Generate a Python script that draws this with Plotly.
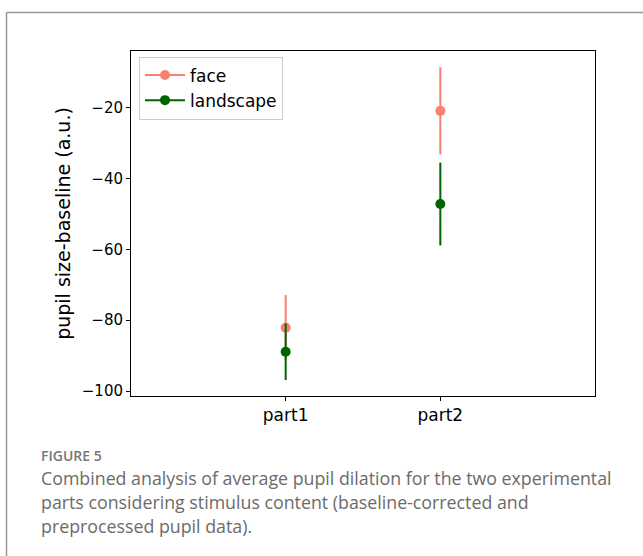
import plotly.graph_objects as go

categories = ["part1", "part2"]
face_mean = [-82.1, -20.9]
face_err = [9.2, 12.3]
landscape_mean = [-88.9, -47.2]
landscape_err = [8.0, 11.7]
y_ticks = [-100, -80, -60, -40, -20]

W, H = 643, 556
L, R, T, B = 131, 595, 51, 396

def px_x(x):
    return (x - L) / (R - L)

def px_y(y):
    return (B - y) / (B - T)

fig = go.Figure()
series = [("face", face_mean, face_err, "#FA8072"),
          ("landscape", landscape_mean, landscape_err, "#006400")]
for name, means, errs, col in series:
    for i, (c, m, e) in enumerate(zip(categories, means, errs)):
        fig.add_trace(go.Scatter(
            x=[c], y=[m], name=name, legendgroup=name, showlegend=(i == 0),
            mode="lines+markers",
            line=dict(color=col, width=2),
            marker=dict(color=col, size=10),
            error_y=dict(type="data", array=[e], color=col, thickness=2, width=0),
        ))

axis_font = dict(family="DejaVu Sans", size=15, color="#000")
fig.update_layout(
    width=W, height=H,
    margin=dict(l=L, r=W - R, t=T, b=H - B),
    paper_bgcolor="white", plot_bgcolor="white",
    font=dict(family="DejaVu Sans", color="#000"),
    showlegend=True,
    legend=dict(x=px_x(139), y=px_y(56.5), xanchor="left", yanchor="top",
                bgcolor="white", bordercolor="#cccccc", borderwidth=1,
                font=dict(family="DejaVu Sans", size=17), tracegroupgap=0, itemwidth=40),
    xaxis=dict(type="category", range=[-1, 2], showgrid=False, zeroline=False,
               showline=True, mirror=True, linecolor="#000", linewidth=1,
               ticks="outside", ticklen=4, tickcolor="#000",
               tickfont=dict(family="DejaVu Sans", size=17, color="#000")),
    yaxis=dict(range=[-101.4, -4.0], tickvals=y_ticks,
               ticktext=["\u2212" + str(abs(v)) for v in y_ticks],
               showgrid=False, zeroline=False,
               showline=True, mirror=True, linecolor="#000", linewidth=1,
               ticks="outside", ticklen=4, tickcolor="#000",
               tickfont=axis_font,
               title=dict(text="pupil size-baseline (a.u.)",
                          font=dict(family="DejaVu Sans", size=19), standoff=6)),
)

# outer frame (left and top edges)
fig.add_shape(type="line", xref="paper", yref="paper",
              x0=px_x(6.5), x1=px_x(6.5), y0=px_y(560), y1=px_y(12.5),
              line=dict(color="#999999", width=1.5))
fig.add_shape(type="line", xref="paper", yref="paper",
              x0=px_x(6.5), x1=px_x(650), y0=px_y(12.5), y1=px_y(12.5),
              line=dict(color="#999999", width=1.5))

cap_font = "Open Sans"
fig.add_annotation(xref="paper", yref="paper", x=px_x(39), y=px_y(455),
                   xanchor="left", yanchor="middle", showarrow=False,
                   text="FIGURE 5", font=dict(family="Open Sans SemiBold, Open Sans", size=14, color="#777777"))
lines = ["Combined analysis of average pupil dilation for the two experimental",
         "parts considering stimulus content (baseline-corrected and",
         "preprocessed pupil data)."]
for k, t in enumerate(lines):
    fig.add_annotation(xref="paper", yref="paper", x=px_x(39), y=px_y(478 + 24 * k),
                       xanchor="left", yanchor="middle", showarrow=False,
                       text=t, font=dict(family=cap_font, size=17.8, color="#6b6b6b"))

fig.write_html("out.html")
